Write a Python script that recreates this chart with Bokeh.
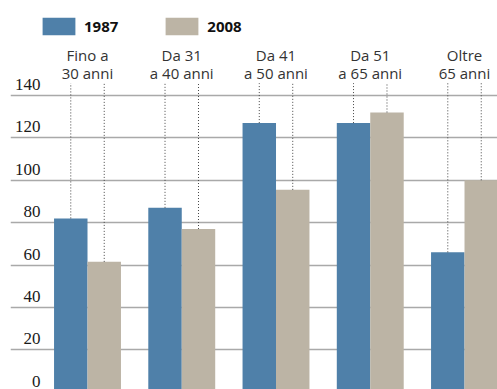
import numpy as np
from bokeh.plotting import figure
from bokeh.models import Range1d, FixedTicker, ColumnDataSource, Legend, LegendItem
from bokeh.core.properties import value
from bokeh.embed import file_html
from bokeh.resources import INLINE

# ---- data ----
cat_line1 = ["Fino a", "Da 31", "Da 41", "Da 51", "Oltre"]
cat_line2 = ["30 anni", "a 40 anni", "a 50 anni", "a 65 anni", "65 anni"]
values_1987 = [82, 87, 127, 127, 66]
values_2008 = [61.5, 77, 95.5, 132, 100]
y_ticks = [0, 20, 40, 60, 80, 100, 120, 140]
series_names = ["1987", "2008"]

# ---- styles ----
BLUE = "#4f80a9"
BEIGE = "#bcb4a5"
BAR_W = 0.355
OFF = BAR_W / 2
DOT_TOP = 145.8

x = np.arange(len(cat_line1))

p = figure(width=497, height=389, output_backend="svg", toolbar_location=None,
           x_range=Range1d(-0.817, 4.350), y_range=Range1d(1.27, 184.85),
           min_border=0, min_border_left=10)
p.outline_line_color = None
p.background_fill_color = "white"
p.border_fill_color = "white"
p.xaxis.visible = False
p.yaxis.visible = False
p.xgrid.visible = False
p.ygrid.ticker = FixedTicker(ticks=y_ticks)
p.ygrid.grid_line_color = "#a9a9a9"
p.ygrid.grid_line_width = 1.5

src = ColumnDataSource(dict(
    xb=x - OFF, xg=x + OFF, xc=x,
    v1=values_1987, v2=values_2008,
    l1=cat_line1, l2=cat_line2,
    top=[DOT_TOP] * len(x),
))

r1 = p.vbar(x="xb", top="v1", width=BAR_W, bottom=0, source=src,
            fill_color=BLUE, line_color=None)
r2 = p.vbar(x="xg", top="v2", width=BAR_W, bottom=0, source=src,
            fill_color=BEIGE, line_color=None)

# dotted leader lines
p.segment(x0="xb", x1="xb", y0="v1", y1="top", source=src,
          line_color="#444444", line_width=1, line_dash="1 2")
p.segment(x0="xg", x1="xg", y0="v2", y1="top", source=src,
          line_color="#444444", line_width=1, line_dash="1 2")

# category labels
p.text(x="xc", y="top", text="l2", source=src, text_align="center",
       text_baseline="alphabetic", y_offset=-10,
       text_font=value("Open Sans"), text_font_size="15px", text_color="#333333")
p.text(x="xc", y="top", text="l1", source=src, text_align="center",
       text_baseline="alphabetic", y_offset=-28,
       text_font=value("Open Sans"), text_font_size="15px", text_color="#333333")

# y tick labels
tsrc = ColumnDataSource(dict(y=y_ticks, t=[str(v) for v in y_ticks],
                             x=[-0.4987] * len(y_ticks)))
p.text(x="x", y="y", text="t", source=tsrc, text_align="right",
       text_baseline="alphabetic", y_offset=-11,
       text_font=value("Liberation Serif"), text_font_size="17px", text_color="#1a1a1a")

legend = Legend(items=[LegendItem(label=series_names[0], renderers=[r1]),
                       LegendItem(label=series_names[1], renderers=[r2])],
                orientation="horizontal", location=(28, 352),
                margin=0, padding=0, spacing=43, label_standoff=5,
                glyph_width=41, glyph_height=22,
                label_text_font="Open Sans", label_text_font_style="bold",
                label_text_font_size="15px", label_text_color="#111111",
                border_line_color=None, background_fill_alpha=0)
p.add_layout(legend)

open("out.html", "w").write(file_html(p, INLINE))
